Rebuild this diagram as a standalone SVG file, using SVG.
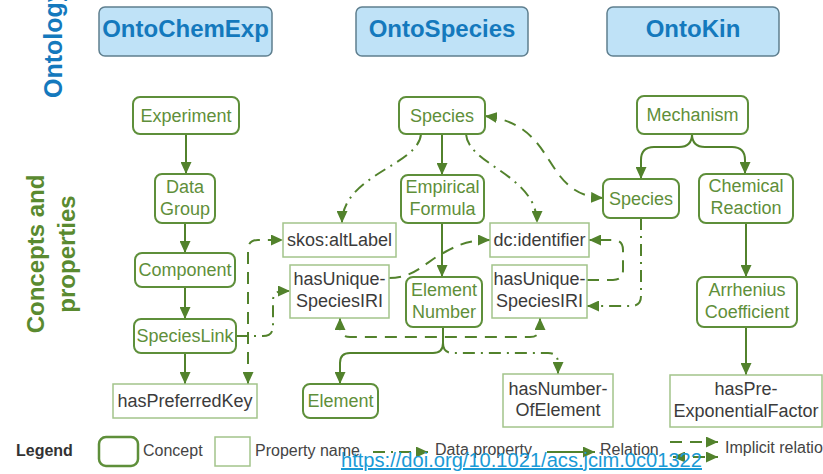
<svg xmlns="http://www.w3.org/2000/svg" width="823" height="474" viewBox="0 0 823 474">
<style>
text{font-family:"Liberation Sans",Arial,sans-serif}
.hdr{fill:#bfe2f7;stroke:#5f7f8f;stroke-width:1.5}
.hdrt{font-size:24px;font-weight:bold;fill:#1479bd;text-anchor:middle}
.c{fill:#fff;stroke:#5e8f3a;stroke-width:2}
.ct{font-size:18px;fill:#5f8f3a;text-anchor:middle}
.p{fill:#fff;stroke:#a3c48b;stroke-width:1.5}
.pt{font-size:18px;fill:#3b3b3b;text-anchor:middle}
.ln{fill:none;stroke:#52822c;stroke-width:2;marker-end:url(#ah)}
.dp{stroke-dasharray:12 6 2 6}
.im{stroke-dasharray:12 8}
.both{marker-start:url(#ah)}
.lg{font-size:16px;fill:#444}
</style>
<defs>
<marker id="ah" viewBox="0 0 12 11" refX="12" refY="5.5" markerWidth="12" markerHeight="11" markerUnits="userSpaceOnUse" orient="auto-start-reverse">
<path d="M0,0 L12,5.5 L0,11 z" fill="#52822c"/>
</marker>
</defs>
<rect width="823" height="474" fill="#fff"/>

<g id="side-labels">
<text transform="translate(62,98) rotate(-90)" style="font-size:25px;font-weight:bold;fill:#1479bd">Ontology</text>
<text transform="translate(44,254) rotate(-90)" style="font-size:24px;font-weight:bold;fill:#5a8a30;text-anchor:middle">Concepts and</text>
<text transform="translate(75,254) rotate(-90)" style="font-size:24px;font-weight:bold;fill:#5a8a30;text-anchor:middle">properties</text>
</g>

<g id="hdr-ontochemexp"><rect class="hdr" x="99" y="7" width="173" height="49" rx="6"/><text class="hdrt" x="185.5" y="37">OntoChemExp</text></g>
<g id="hdr-ontospecies"><rect class="hdr" x="356" y="7" width="172" height="49" rx="6"/><text class="hdrt" x="442" y="37">OntoSpecies</text></g>
<g id="hdr-ontokin"><rect class="hdr" x="607" y="7" width="172" height="49" rx="6"/><text class="hdrt" x="693" y="37">OntoKin</text></g>

<g id="connectors">
<path class="ln" d="M186,134 L186,174"/>
<path class="ln" d="M185,223 L185,253"/>
<path class="ln" d="M185,287 L185,319"/>
<path class="ln" d="M185,353 L185,384"/>
<path class="ln" d="M442,134 L442,175"/>
<path class="ln" d="M442,223 L442,277"/>
<path class="ln" d="M443,327 L443,343 Q443,353 433,353 L350,353 Q340,353 340,363 L340,384"/>
<path class="ln" d="M692,134 Q692,147 679,147 L654,147 Q641,147 641,160 L641,179"/>
<path class="ln" d="M692,134 Q692,147 705,147 L732,147 Q745,147 745,160 L745,174"/>
<path class="ln" d="M746,223 L746,277"/>
<path class="ln" d="M746,327 L746,375"/>
<path class="ln dp" d="M421,134 C419,165 342,175 342,223"/>
<path class="ln dp" d="M466,134 C468,165 537,175 537,223"/>
<path class="ln dp" d="M236,336 L263,336 Q273,336 273,326 L273,301 Q273,291 283,291 L290,291"/>
<path class="ln dp" d="M443,343 Q443,353 453,353 L548,353 Q558,353 558,363 L558,374"/>
<path class="ln dp" d="M641,218 L641,296 Q641,306 631,306 L587,306"/>
<path class="ln im both" d="M485,116 C560,125 540,195 603,198"/>
<path class="ln im" d="M587,280 L613,280 Q623,280 623,270 L623,250 Q623,240 613,240 L589,240"/>
<path class="ln im" d="M389,278 C415,278 425,262 445,252 C460,244 470,240 490,240"/>
<path class="ln im both" d="M340,318 L340,327 Q340,337 350,337 L530,337 Q540,337 540,327 L540,318"/>
<path class="ln im both" d="M248,384 L248,250 Q248,240 258,240 L283,240"/>
</g>

<g id="experiment"><rect class="c" x="133" y="97" width="106" height="37" rx="7"/><text class="ct" x="186" y="122">Experiment</text></g>
<g id="datagroup"><rect class="c" x="155" y="174" width="60" height="49" rx="7"/><text class="ct" x="185" y="193">Data</text><text class="ct" x="185" y="215">Group</text></g>
<g id="component"><rect class="c" x="135" y="253" width="100" height="34" rx="7"/><text class="ct" x="185" y="276">Component</text></g>
<g id="specieslink"><rect class="c" x="134" y="319" width="102" height="34" rx="7"/><text class="ct" x="185" y="342">SpeciesLink</text></g>
<g id="haspreferredkey"><rect class="p" x="113" y="384" width="144" height="34"/><text class="pt" x="185" y="407">hasPreferredKey</text></g>

<g id="species-os"><rect class="c" x="399" y="97" width="86" height="37" rx="7"/><text class="ct" x="442" y="122">Species</text></g>
<g id="empiricalformula"><rect class="c" x="401" y="175" width="83" height="48" rx="7"/><text class="ct" x="442.5" y="193">Empirical</text><text class="ct" x="442.5" y="215">Formula</text></g>
<g id="elementnumber"><rect class="c" x="406" y="277" width="76" height="50" rx="7"/><text class="ct" x="444" y="296">Element</text><text class="ct" x="444" y="318">Number</text></g>
<g id="skosaltlabel"><rect class="p" x="283" y="223" width="113" height="34"/><text class="pt" x="339.5" y="246">skos:altLabel</text></g>
<g id="hasuniquespeciesiri-l"><rect class="p" x="290" y="265" width="99" height="53"/><text class="pt" x="339.5" y="285">hasUnique-</text><text class="pt" x="339.5" y="307">SpeciesIRI</text></g>
<g id="dcidentifier"><rect class="p" x="490" y="223" width="99" height="34"/><text class="pt" x="539.5" y="246">dc:identifier</text></g>
<g id="hasuniquespeciesiri-r"><rect class="p" x="492" y="265" width="95" height="53"/><text class="pt" x="539.5" y="285">hasUnique-</text><text class="pt" x="539.5" y="307">SpeciesIRI</text></g>
<g id="element"><rect class="c" x="303" y="384" width="75" height="34" rx="7"/><text class="ct" x="340.5" y="407">Element</text></g>
<g id="hasnumberofelement"><rect class="p" x="503" y="374" width="110" height="53"/><text class="pt" x="558" y="395">hasNumber-</text><text class="pt" x="558" y="416">OfElement</text></g>

<g id="mechanism"><rect class="c" x="637" y="96" width="111" height="38" rx="7"/><text class="ct" x="692.5" y="121">Mechanism</text></g>
<g id="species-ok"><rect class="c" x="603" y="179" width="76" height="39" rx="7"/><text class="ct" x="641" y="205">Species</text></g>
<g id="chemicalreaction"><rect class="c" x="699" y="174" width="94" height="49" rx="7"/><text class="ct" x="746" y="192">Chemical</text><text class="ct" x="746" y="214">Reaction</text></g>
<g id="arrheniuscoefficient"><rect class="c" x="697" y="277" width="100" height="50" rx="7"/><text class="ct" x="747" y="296">Arrhenius</text><text class="ct" x="747" y="318">Coefficient</text></g>
<g id="haspreexponentialfactor"><rect class="p" x="670" y="375" width="152" height="52"/><text class="pt" x="746" y="395">hasPre-</text><text class="pt" x="746" y="417">ExponentialFactor</text></g>

<g id="legend">
<text x="16" y="456" style="font-size:16px;font-weight:bold;fill:#333">Legend</text>
<rect class="c" x="99" y="437" width="39" height="29" rx="7" style="stroke-width:2.5"/>
<text class="lg" x="143" y="456">Concept</text>
<rect class="p" x="215" y="437" width="35" height="29"/>
<text class="lg" x="255" y="456">Property name</text>
<path class="ln dp" d="M373,452 L428,452"/>
<text class="lg" x="435" y="455">Data property</text>
<path class="ln" d="M547,452 L595,452"/>
<text class="lg" x="600" y="455">Relation</text>
<path class="ln im" d="M670,442 L718,442"/>
<path class="ln im both" d="M673,457 L718,457"/>
<text class="lg" x="725" y="453">Implicit relation</text>
</g>

<g id="doi"><text x="341" y="467" textLength="361" lengthAdjust="spacingAndGlyphs" style="font-size:20px;fill:#1a9ad6;text-decoration:underline">https://doi.org/10.1021/acs.jcim.0c01322</text></g>
</svg>
